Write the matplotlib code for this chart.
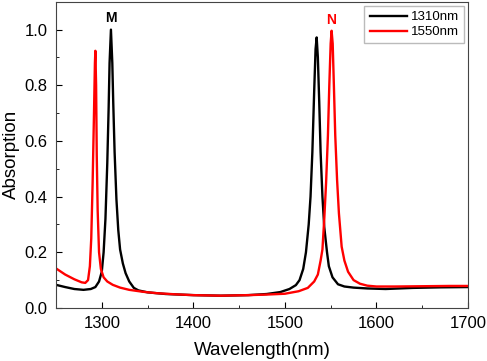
import matplotlib
matplotlib.use("Agg")
import matplotlib.pyplot as plt
from matplotlib.ticker import MultipleLocator

plt.rcParams['font.family'] = ['Liberation Sans', 'DejaVu Sans']

# 1310nm curve (black)
wl_1310 = [1250, 1260, 1270, 1280, 1288, 1293, 1297, 1300, 1302, 1304, 1306,
           1307.5, 1308.5, 1310, 1311.5, 1312.5, 1314, 1316, 1318, 1320, 1323,
           1326, 1330, 1335, 1340, 1350, 1370, 1400, 1430, 1460, 1480, 1495,
           1505, 1512, 1516, 1520, 1523, 1526, 1528, 1530, 1532, 1533.5,
           1534.7, 1536, 1537.5, 1539, 1541, 1543, 1546, 1548, 1552, 1558,
           1565, 1575, 1590, 1610, 1640, 1670, 1700]
abs_1310 = [0.083, 0.075, 0.068, 0.065, 0.068, 0.075, 0.095, 0.13, 0.2, 0.32, 0.52,
            0.72, 0.88, 1.0, 0.88, 0.74, 0.56, 0.39, 0.28, 0.21, 0.16,
            0.125, 0.095, 0.072, 0.063, 0.056, 0.05, 0.046, 0.044, 0.046, 0.05, 0.057,
            0.068, 0.082, 0.1, 0.14, 0.2, 0.3, 0.4, 0.56, 0.78, 0.93,
            0.972, 0.9, 0.74, 0.56, 0.4, 0.29, 0.2, 0.15, 0.11, 0.085,
            0.077, 0.073, 0.07, 0.068, 0.072, 0.074, 0.075]

# 1550nm curve (red)
wl_1550 = [1250, 1260, 1270, 1278, 1282, 1285, 1287, 1288.5, 1290, 1291.5,
           1292.5, 1293, 1293.8, 1294.5, 1295.5, 1297, 1299, 1302, 1306, 1312,
           1320, 1330, 1345, 1360, 1380, 1400, 1430, 1460, 1480, 1500, 1515,
           1525, 1532, 1536, 1539, 1541, 1543, 1545, 1547, 1548.5, 1550, 1551,
           1552.2, 1553.5, 1555, 1557, 1559, 1562, 1565, 1569, 1575, 1582,
           1590, 1600, 1620, 1650, 1680, 1700]
abs_1550 = [0.142, 0.12, 0.103, 0.092, 0.09, 0.1, 0.15, 0.25, 0.45, 0.7,
            0.88, 0.924, 0.8, 0.55, 0.35, 0.2, 0.14, 0.11, 0.095, 0.083,
            0.073, 0.065, 0.058, 0.053, 0.049, 0.046, 0.044, 0.046, 0.048, 0.051, 0.06,
            0.072, 0.095, 0.12, 0.17, 0.21, 0.32, 0.45, 0.62, 0.8, 0.95, 0.996,
            0.95, 0.8, 0.62, 0.46, 0.34, 0.22, 0.17, 0.13, 0.1, 0.087,
            0.08, 0.077, 0.077, 0.078, 0.079, 0.079]

fig = plt.figure(figsize=(4.87, 3.61), dpi=100)
ax = fig.add_axes([0.115, 0.147, 0.846, 0.848])

ax.plot(wl_1310, abs_1310, color='black', lw=1.7, label='1310nm')
ax.plot(wl_1550, abs_1550, color='red', lw=1.7, label='1550nm')

ax.text(1310, 1.015, 'M', color='black', fontsize=10, fontweight='bold',
        ha='center', va='bottom')
ax.text(1550, 1.01, 'N', color='red', fontsize=10, fontweight='bold',
        ha='center', va='bottom')

ax.set_xlim(1250, 1700)
ax.set_ylim(0, 1.1)
ax.xaxis.set_major_locator(MultipleLocator(100))
ax.xaxis.set_minor_locator(MultipleLocator(50))
ax.yaxis.set_major_locator(MultipleLocator(0.2))
ax.yaxis.set_minor_locator(MultipleLocator(0.1))
ax.tick_params(which='both', direction='in', labelsize=12, pad=6)
ax.tick_params(which='major', length=4)
ax.tick_params(which='minor', length=2.5)

for sp in ax.spines.values():
    sp.set_color('#444444')

ax.set_xlabel('Wavelength(nm)', fontsize=13.5, labelpad=8)
ax.set_ylabel('Absorption', fontsize=13.5, labelpad=3)

leg = ax.legend(loc='upper right', fontsize=9.5, fancybox=False,
                edgecolor='#aaaaaa', handlelength=2.8, borderaxespad=0.3,
                handletextpad=0.3, labelspacing=0.2)

fig.savefig('out.png', dpi=100)
